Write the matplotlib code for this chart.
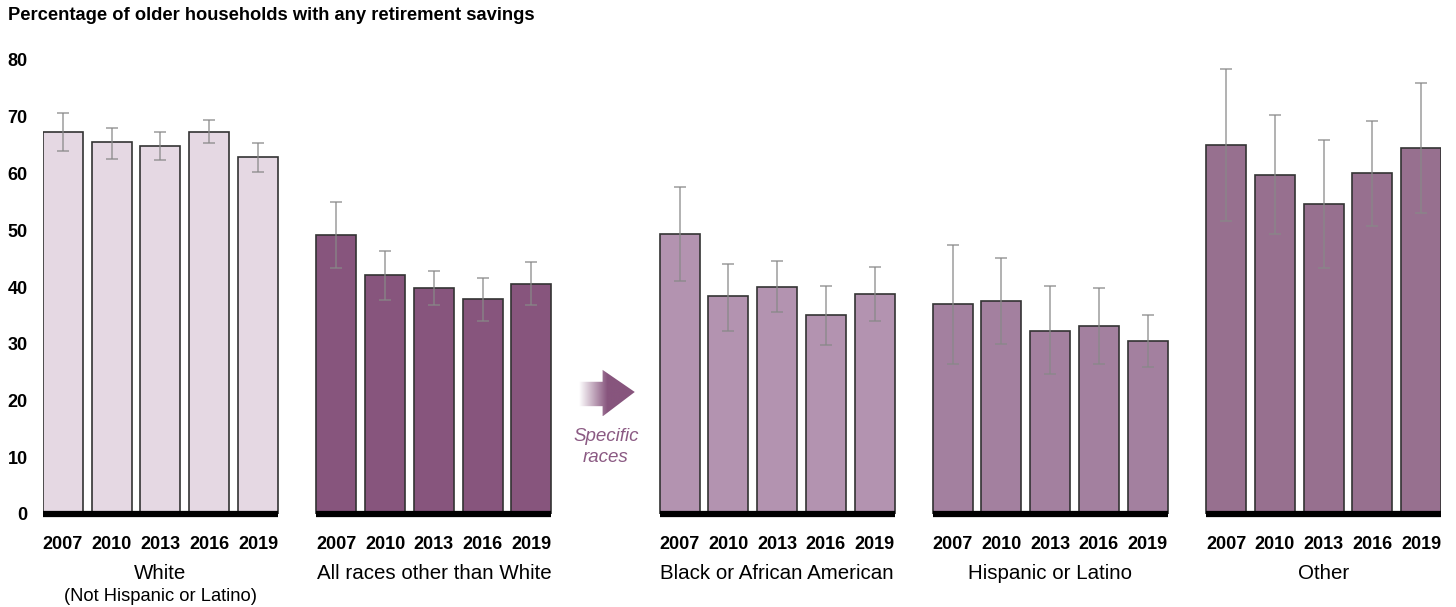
import numpy as np
import matplotlib.pyplot as plt
from matplotlib.patches import Polygon
from matplotlib.colors import LinearSegmentedColormap
import matplotlib.transforms as mtransforms

plt.rcParams['font.family'] = ['Liberation Sans', 'DejaVu Sans']

years = ['2007', '2010', '2013', '2016', '2019']
groups = ['White', 'All races other than White', 'Black or African American',
          'Hispanic or Latino', 'Other']

white = [67.3, 65.6, 64.9, 67.4, 62.9]
white_lo = [64.0, 62.6, 62.4, 65.3, 60.3]
white_hi = [70.7, 68.0, 67.4, 69.5, 65.4]

nonwhite = [49.2, 42.1, 39.8, 37.9, 40.5]
nonwhite_lo = [43.3, 37.7, 36.8, 34.0, 36.8]
nonwhite_hi = [55.0, 46.3, 42.8, 41.6, 44.4]

black = [49.3, 38.4, 40.0, 35.1, 38.8]
black_lo = [41.1, 32.2, 35.6, 29.8, 34.0]
black_hi = [57.6, 44.1, 44.6, 40.2, 43.5]

hispanic = [37.0, 37.5, 32.2, 33.1, 30.5]
hispanic_lo = [26.4, 30.0, 24.7, 26.4, 25.9]
hispanic_hi = [47.4, 45.1, 40.2, 39.8, 35.1]

other = [65.0, 59.8, 54.6, 60.0, 64.5]
other_lo = [51.6, 49.3, 43.3, 50.7, 53.1]
other_hi = [78.4, 70.3, 65.9, 69.3, 75.9]

series = [(white, white_lo, white_hi), (nonwhite, nonwhite_lo, nonwhite_hi),
          (black, black_lo, black_hi), (hispanic, hispanic_lo, hispanic_hi),
          (other, other_lo, other_hi)]
colors = ['#e5d8e3', '#87557d', '#b393b0', '#a3809f', '#97708f']
starts = [0, 5.61, 12.65, 18.25, 23.86]
w = 0.82

fig = plt.figure(figsize=(14.56, 6.07), dpi=100)
ax = fig.add_axes([43 / 1456, 93 / 607, 1398 / 1456, 454 / 607])

ticks = []
for (vals, lo, hi), c, s in zip(series, colors, starts):
    x = s + np.arange(len(years))
    ticks.extend(x)
    vals = np.array(vals)
    err = [vals - np.array(lo), np.array(hi) - vals]
    ax.bar(x, vals, width=w, color=c, edgecolor='#333333', linewidth=1.2, zorder=2)
    ax.errorbar(x, vals, yerr=err, fmt='none', ecolor='#888888', alpha=0.7,
                elinewidth=1.3, capsize=4, capthick=1.3, zorder=3)
    ax.hlines(0, x[0] - w / 2, x[-1] + w / 2, color='black', linewidth=4.5,
              zorder=4, clip_on=False)

ax.set_xlim(-w / 2, starts[-1] + 4 + w / 2)
ax.set_ylim(0, 80)
ax.set_yticks(range(0, 81, 10))
ax.set_xticks(ticks)
ax.set_xticklabels(years * len(groups))
ax.tick_params(axis='both', length=0, labelsize=13)
ax.tick_params(axis='y', pad=11)
ax.tick_params(axis='x', pad=15.5)
for lab in ax.get_xticklabels() + ax.get_yticklabels():
    lab.set_fontweight('bold')
for sp in ax.spines.values():
    sp.set_visible(False)

trans = mtransforms.blended_transform_factory(ax.transData, ax.transAxes)
for name, s in zip(groups, starts):
    ax.text(s + 2, -0.132, name, transform=trans, ha='center', va='center', fontsize=14.8)
ax.text(starts[0] + 2, -0.181, '(Not Hispanic or Latino)', transform=trans,
        ha='center', va='center', fontsize=13.2)

ax.text(-35 / 1398, 1.0 + 44 / 454, 'Percentage of older households with any retirement savings',
        transform=ax.transAxes, ha='left', va='center', fontsize=13.2, fontweight='bold')

# gradient arrow between the two sections
x0, xb, xt = 10.58, 11.07, 11.73
arrow = Polygon([(x0, 23.3), (xb, 23.3), (xb, 25.4), (xt, 21.5), (xb, 17.2),
                 (xb, 19.0), (x0, 19.0)], closed=True, facecolor='none',
                edgecolor='none', transform=ax.transData)
ax.add_patch(arrow)
cmap = LinearSegmentedColormap.from_list('arr', ['#ffffff', '#87557d', '#87557d'])
grad = np.linspace(0, 1, 256).reshape(1, -1)
im = ax.imshow(grad, extent=(x0, xt, 17.2, 25.4), cmap=cmap, aspect='auto', zorder=3)
im.set_clip_path(arrow)
ax.set_xlim(-w / 2, starts[-1] + 4 + w / 2)
ax.set_ylim(0, 80)
ax.text((x0 + xt) / 2 - 0.02, 11.8, 'Specific\nraces', ha='center', va='center', fontsize=13.5,
        style='italic', color='#8b5a83', linespacing=1.35)

fig.savefig('out.png', dpi=100)
